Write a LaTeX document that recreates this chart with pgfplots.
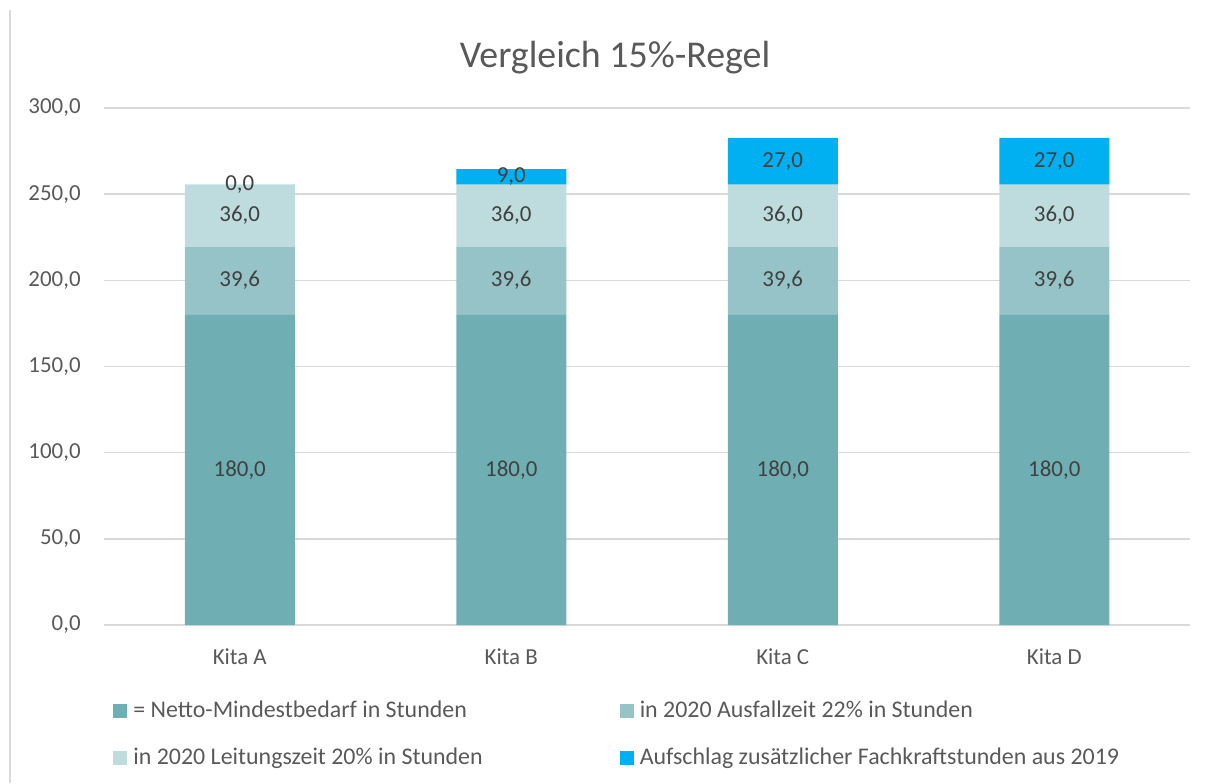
\documentclass[border=0pt]{standalone}
\usepackage{pgfplots}
\pgfplotsset{compat=1.18}
\usepackage{fontspec}
\setmainfont{Carlito}
\definecolor{c1}{HTML}{6FAFB4}
\definecolor{c2}{HTML}{95C3C7}
\definecolor{c3}{HTML}{BEDCDE}
\definecolor{c4}{HTML}{00B0F0}
\definecolor{gridc}{HTML}{D9D9D9}
\definecolor{txt}{HTML}{595959}
\definecolor{lbl}{HTML}{404040}
\begin{document}
\begin{tikzpicture}[x=1bp,y=1bp]
\useasboundingbox (0,0) rectangle (607.5,391.5);
\draw[gridc, line width=1bp] (5,0) -- (5,386.5);
\node[font=\fontsize{19}{23}\selectfont, text=txt] at (307.5,362.5) {Vergleich 15\%-Regel};
\begin{axis}[
  at={(52bp,79bp)}, anchor=south west,
  scale only axis, width=543bp, height=258.5bp,
  ybar stacked, bar width=55bp,
  xmin=-0.5, xmax=3.5, ymin=0, ymax=300,
  ytick={0,50,...,300},
  xtick=data, xticklabels={Kita A,Kita B,Kita C,Kita D},
  ymajorgrids, grid style={gridc, line width=0.75bp},
  axis line style={draw=none},
  major tick length=0pt,
  tick label style={font=\fontsize{11.5}{14}\selectfont, text=txt},
  /pgf/number format/assume math mode=true,
  yticklabel style={anchor=east, inner sep=0pt, xshift=-11.5bp,
    /pgf/number format/.cd, fixed, fixed zerofill, precision=1, use comma, 1000 sep={}},
  xticklabel style={anchor=north, inner sep=0pt, yshift=-11.5bp},
  nodes near coords,
  every node near coord/.append style={font=\fontsize{11.5}{14}\selectfont, text=lbl, anchor=center,
    /pgf/number format/.cd, fixed, fixed zerofill, precision=1, use comma, 1000 sep={}},
  every axis plot/.append style={draw=none, legend image code/.code={\fill[##1] (0bp,-3.5bp) rectangle (7bp,3.5bp);}},
  legend columns=2,
  legend cell align=left,
  legend style={draw=none, fill=none, at={(0.0083,-0.1458)}, anchor=north west,
    font=\fontsize{12}{14}\selectfont, text=txt, inner sep=0pt, row sep=14bp,
    nodes={inner sep=0pt},
    /tikz/every odd column/.append style={column sep=3bp},
    /tikz/every even column/.append style={column sep=68.5bp}},
]
\addplot[fill=c1] coordinates {(0,180) (1,180) (2,180) (3,180)};
\addlegendentry{= Netto-Mindestbedarf in Stunden}
\addplot[fill=c2] coordinates {(0,39.6) (1,39.6) (2,39.6) (3,39.6)};
\addlegendentry{in 2020 Ausfallzeit 22\% in Stunden}
\addplot[fill=c3] coordinates {(0,36) (1,36) (2,36) (3,36)};
\addlegendentry{in 2020 Leitungszeit 20\% in Stunden}
\addplot[fill=c4, point meta=explicit] coordinates {(0,0.001) [0] (1,9) [9] (2,27) [27] (3,27) [27]};
\addlegendentry{Aufschlag zusätzlicher Fachkraftstunden aus 2019}
\end{axis}
\end{tikzpicture}
\end{document}
